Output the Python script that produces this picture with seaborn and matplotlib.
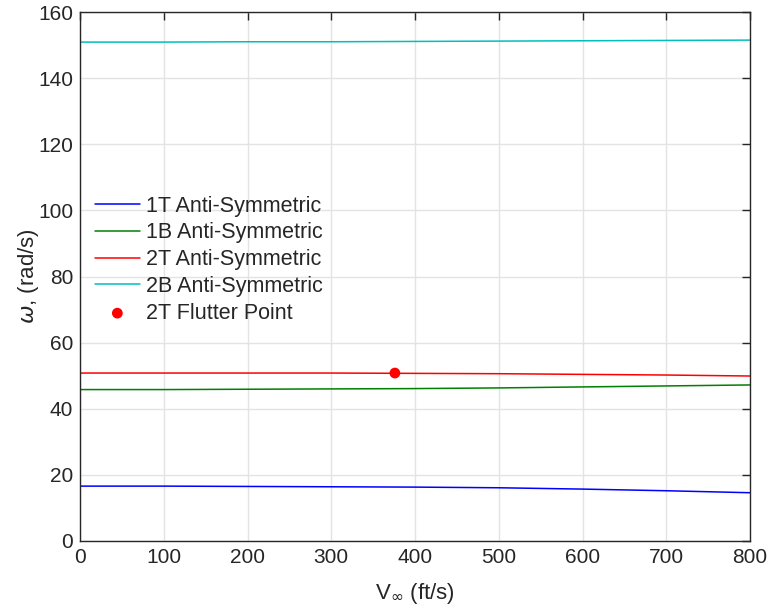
import matplotlib
matplotlib.use("Agg")
import matplotlib.pyplot as plt
import seaborn as sns
import numpy as np
import pandas as pd

# Data
V = [0, 100, 200, 300, 400, 500, 600, 700, 800]
w_1T = [16.6, 16.6, 16.5, 16.4, 16.3, 16.1, 15.7, 15.2, 14.6]
w_1B = [45.8, 45.8, 45.9, 46.0, 46.1, 46.3, 46.6, 46.9, 47.2]
w_2T = [50.8, 50.8, 50.8, 50.8, 50.7, 50.6, 50.4, 50.2, 49.9]
w_2B = [150.9, 150.9, 151.0, 151.0, 151.1, 151.2, 151.3, 151.4, 151.5]
flutter_V = [376]
flutter_w = [50.8]

labels = ["1T Anti-Symmetric", "1B Anti-Symmetric", "2T Anti-Symmetric", "2B Anti-Symmetric"]
colors = ["#0000ff", "#008000", "#ff0000", "#00bfbf"]

sns.set_theme(style="white")
plt.rcParams["font.family"] = ["Liberation Sans", "DejaVu Sans"]
plt.rcParams["mathtext.fontset"] = "dejavusans"

fig = plt.figure(figsize=(7.69, 6.12), dpi=100)
ax = fig.add_axes([80/769, 1 - 541/612, 670/769, 529/612])

series = [w_1T, w_1B, w_2T, w_2B]
for lab, col, ys in zip(labels, colors, series):
    df = pd.DataFrame({"V": V, "w": ys})
    sns.lineplot(data=df, x="V", y="w", ax=ax, color=col, linewidth=1.1, label=lab)

sns.scatterplot(x=flutter_V, y=flutter_w, ax=ax, color="#ff0000", s=60,
                edgecolor="none", label="2T Flutter Point", zorder=5)

ax.set_xlim(0, 800)
ax.set_ylim(0, 160)
ax.set_xticks(np.arange(0, 801, 100))
ax.set_yticks(np.arange(0, 161, 20))
ax.grid(True, color="#e3e3e3", linewidth=1.0)
ax.set_axisbelow(True)
for s in ax.spines.values():
    s.set_color("#262626")
    s.set_linewidth(1.0)
ax.tick_params(direction="in", length=6, width=1, top=True, right=True,
               labelsize=15, colors="#262626", pad=5)
ax.set_xlabel(r"V$_\infty$ (ft/s)", fontsize=16, color="#262626", labelpad=10)
ax.set_ylabel(r"$\omega$, (rad/s)", fontsize=16, color="#262626", labelpad=-2)

leg = ax.legend(loc="upper left", bbox_to_anchor=(0.022, 0.653), frameon=False,
                fontsize=15.5, handlelength=2.1, labelspacing=0.27,
                handletextpad=0.3, borderaxespad=0.0, borderpad=0.0)

fig.savefig("out.png", dpi=100)
